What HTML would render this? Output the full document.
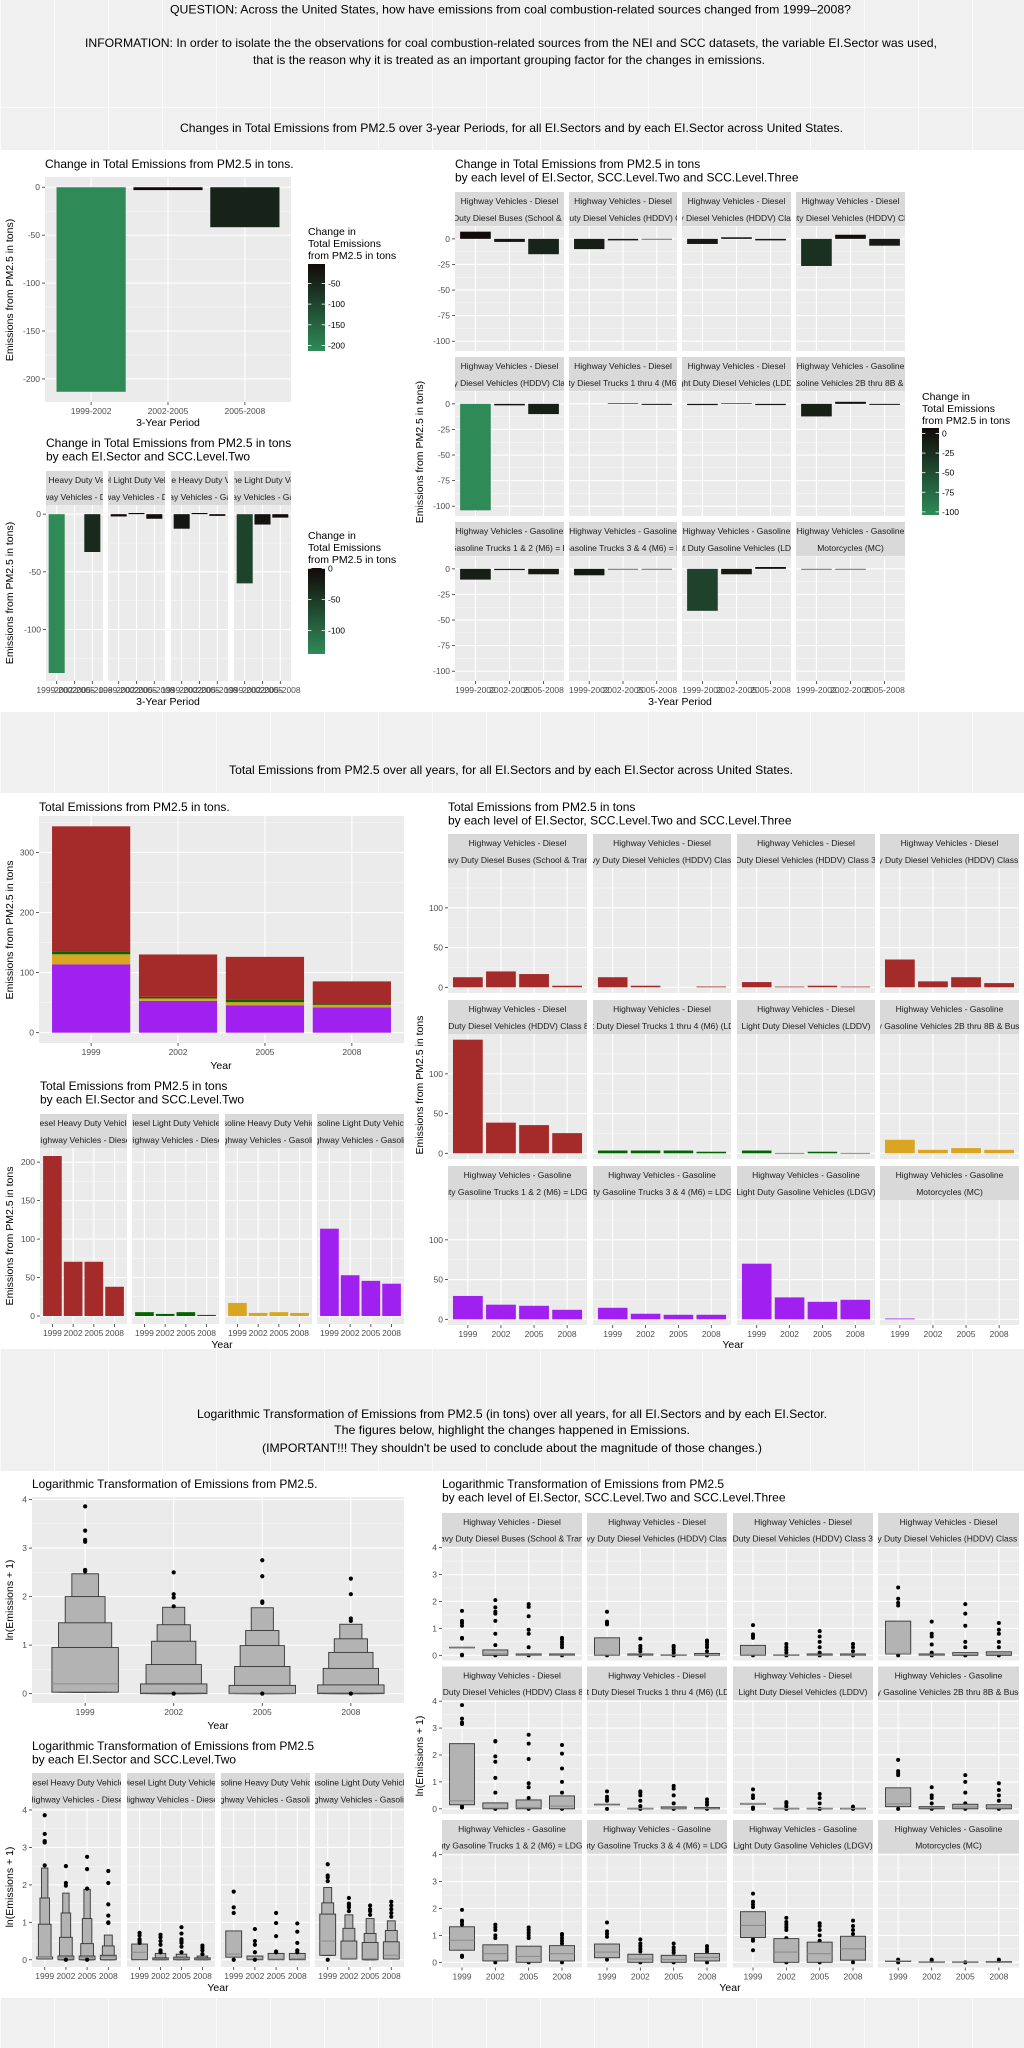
<!DOCTYPE html>
<html><head><meta charset="utf-8">
<style>
html,body{margin:0;padding:0;background:#f0f0f0;}
svg{display:block;font-family:"Liberation Sans",Arial,sans-serif;}
</style></head>
<body>
<svg id="chart-root" xmlns="http://www.w3.org/2000/svg" width="1024" height="2048" viewBox="0 0 1024 2048">
<defs>
<pattern id="bgpat" width="54" height="2048" patternUnits="userSpaceOnUse"><rect width="54" height="2048" fill="#f0f0f0"/><rect x="0" width="1" height="2048" fill="#fafafa"/></pattern>
</defs>
<rect x="0" y="0" width="1024" height="2048" fill="url(#bgpat)"/>
<rect x="0" y="107" width="1024" height="1" fill="#fafafa"/>
<rect x="0" y="150" width="1024" height="562" fill="#ffffff"/>
<rect x="0" y="793" width="1024" height="556" fill="#ffffff"/>
<rect x="0" y="1471" width="1024" height="527" fill="#ffffff"/>
<text x="170" y="13.5" font-size="12" textLength="681" lengthAdjust="spacingAndGlyphs">QUESTION:   Across the United States, how have emissions from coal combustion-related sources changed from 1999–2008?</text>
<text x="85" y="47" font-size="12" textLength="852" lengthAdjust="spacingAndGlyphs">INFORMATION:   In order to isolate the the observations for coal combustion-related sources from the NEI and SCC datasets, the variable EI.Sector was used,</text>
<text x="253" y="64" font-size="12" textLength="512" lengthAdjust="spacingAndGlyphs">that is the reason why it is treated as an important grouping factor for the changes in emissions.</text>
<text x="180" y="132" font-size="12" textLength="663" lengthAdjust="spacingAndGlyphs">Changes in Total Emissions from PM2.5 over 3-year Periods,  for all EI.Sectors and by each EI.Sector across United States.</text>
<text x="229" y="774" font-size="12" textLength="564" lengthAdjust="spacingAndGlyphs">Total Emissions from PM2.5 over all years, for all EI.Sectors and by each EI.Sector across United States.</text>
<text x="197" y="1418" font-size="12" textLength="630" lengthAdjust="spacingAndGlyphs">Logarithmic Transformation of Emissions from PM2.5 (in tons) over all years, for all EI.Sectors and by each EI.Sector.</text>
<text x="334" y="1434" font-size="12" textLength="356" lengthAdjust="spacingAndGlyphs">The figures below, highlight the changes happened in Emissions.</text>
<text x="262" y="1452" font-size="12" textLength="500" lengthAdjust="spacingAndGlyphs">(IMPORTANT!!!  They shouldn't be used to conclude about the magnitude of those changes.)</text>
</svg>
<script>
// ---------- DATA ----------
const chgPeriods = ['1999-2002','2002-2005','2005-2008'];
const chgTotal = [-213.4, -3, -41.7];
const chgLvl2 = [[-137.7, null, -32.8],[-2, 1, -4],[-12.6, 1, -1.5],[-60, -9, -3]];
const chgLvl3 = [
  [7,-3,-15],[-10,-1.5,-0.5],[-5,1.5,-1.5],[-26.5,4,-6.7],
  [-104,-1.5,-10],[null,0.5,-1],[-1.2,0.5,-1.2],[-12.3,2,-1],
  [-10.5,-1.2,-5.3],[-6.3,-0.3,-0.3],[-41,-5.3,1.8],[-0.3,-0.3,null]
];
const years = ['1999','2002','2005','2008'];
const dieselHeavy = [208, 70.5, 70.5, 38];
const dieselLight = [5, 2.7, 5, 1.4];
const gasHeavy = [17, 4, 5, 4];
const gasLight = [113.5, 53, 45.7, 42];
const totLvl3 = [
  [12.7,20,16.7,2],[12.7,2,0,1],[6.6,0.9,2,0.9],[35,7.5,12.7,5.3],
  [143,38.6,35.5,25.4],[3.5,3.5,3.5,2],[3.5,0.5,2,0.5],[17,4.4,6.6,4.4],
  [29.4,18.4,17,12],[14.5,7,5.7,5.7],[70,27.6,22,24.6],[1,0,0,0]
];
const lvl3Group = [0,0,0,0,0,1,1,2,3,3,3,3];
const lvAllUp = [[0.95,1.46,2.0,2.47],[0.2,0.6,1.08,1.42,1.78],[0.17,0.56,0.99,1.3,1.77],[0.18,0.52,0.85,1.13,1.43]];
const lvAllLo = [0.03, 0, 0, 0];
const lvAllMed = [0.2, 0.02, 0.01, 0.02];
const lvAllOut = [[2.52,2.55,3.13,3.17,3.36,3.86],[0,1.8,1.98,2.05,2.5],[0,1.87,1.9,2.42,2.75],[0,1.5,1.55,2.05,2.37]];
const lvL2Up = [
  [[0.08,0.95,1.65,2.45],[0.1,0.6,1.25,1.78],[0.1,0.43,1.1,1.88],[0.12,0.37,0.66]],
  [[0.42],[0.05,0.17],[0.07,0.15],[0.05,0.1]],
  [[0.77],[0.1],[0.17],[0.17]],
  [[1.22,1.52,1.93],[0.5,0.84,1.2],[0.46,0.7,1.1],[0.48,0.78,1.04]]
];
const lvL2Lo = [[0.02,0,0,0],[0,0,0,0],[0.07,0,0,0],[0.12,0.02,0,0.02]];
const lvL2Med = [[0.08,0.05,0.05,0.08],[0.2,0.02,0.03,0.02],[0.15,0.02,0.02,0.03],[0.5,0.04,0.03,0.12]];
const lvL2Out = [
  [[2.52,3.13,3.17,3.36,3.86],[0,1.98,2.05,2.5],[0,1.9,2.42,2.75],[0.98,1.0,1.18,1.48,2.05,2.37]],
  [[0.45,0.5,0.55,0.65,0.72],[0.2,0.25,0.4,0.5,0.6,0.67],[0.2,0.35,0.45,0.5,0.55,0.7,0.87],[0.15,0.25,0.32,0.38]],
  [[0,1.25,1.4,1.82],[0,0.2,0.4,0.5,0.82],[0.2,0.22,0.63,0.98,1.25],[0.2,0.25,0.45,0.75,0.97]],
  [[0,2.1,2.2,2.25,2.55],[1.3,1.4,1.45,1.5,1.65],[1.2,1.3,1.35,1.45],[1.15,1.25,1.35,1.45,1.55]]
];
const boxLo = [
  [0.3,0,0,0],[0,0,0,0],[0,0,0,0],[0.05,0,0,0],
  [0.15,0,0,0],[0.17,0,0,0],[0.2,0,0,0],[0.08,0,0,0],
  [0.45,0.05,0,0.05],[0.17,0,0,0.05],[0.92,0,0,0.08],[0.05,0,0,0]
];
const boxHi = [
  [0.3,0.2,0.05,0.05],[0.65,0.05,0.02,0.07],[0.37,0.02,0.05,0.05],[1.27,0.05,0.1,0.13],
  [2.42,0.22,0.33,0.48],[0.17,0.02,0.07,0.05],[0.2,0.02,0.02,0.02],[0.78,0.08,0.17,0.15],
  [1.32,0.65,0.6,0.62],[0.68,0.3,0.26,0.33],[1.88,0.88,0.75,0.97],[0.05,0.02,0.02,0.03]
];
const boxMed = [
  [0.3,0.05,0.01,0.01],[0.02,0.01,0.01,0.02],[0.02,0.01,0.01,0.01],[0.07,0.01,0.03,0.05],
  [0.3,0.03,0.05,0.1],[0.17,0.01,0.02,0.02],[0.2,0.01,0.01,0.01],[0.18,0.03,0.07,0.06],
  [0.82,0.32,0.22,0.32],[0.38,0.12,0.1,0.18],[1.37,0.38,0.32,0.5],[0.05,0.01,0.01,0.01]
];
const boxOut = [
  [[0,0.02,0.62,0.65,1.1,1.2,1.28,1.65],[0,0.38,0.8,1.28,1.55,1.62,1.78,2.05],[0,0.3,0.8,0.95,1.45,1.8,1.9],[0,0.3,0.4,0.5,0.6,0.65]],
  [[0,1.15,1.2,1.25,1.62],[0,0.15,0.25,0.35,0.62],[0,0.1,0.2,0.3,0.35],[0,0.15,0.3,0.4,0.5,0.55]],
  [[0,0.65,0.72,0.78,1.12],[0,0.1,0.2,0.3,0.42],[0,0.1,0.3,0.5,0.7,0.9],[0,0.15,0.3,0.42]],
  [[0,1.85,1.95,2.1,2.52],[0,0.1,0.4,0.7,0.8,1.25],[0,0.3,0.5,1.1,1.55,1.9],[0,0.3,0.5,0.8,0.95,1.2]],
  [[0.05,0.1,3.15,3.2,3.35,3.85],[0,0.6,1.15,1.75,1.95,2.5,2.52],[0,0.4,0.8,0.95,1.85,2.42,2.75],[0,0.6,1.0,1.5,2.05,2.37]],
  [[0,0.3,0.35,0.45,0.65],[0,0.1,0.3,0.5,0.6,0.65],[0,0.2,0.5,0.75,0.85],[0,0.15,0.25,0.35]],
  [[0,0.05,0.4,0.5,0.72],[0,0.1,0.2,0.25],[0,0.2,0.4,0.55],[0,0.05,0.08]],
  [[0,1.25,1.32,1.4,1.82],[0,0.2,0.4,0.5,0.8],[0,0.2,0.6,1.0,1.25],[0,0.3,0.5,0.7,0.95]],
  [[0.2,0.25,1.4,1.5,1.55,1.95],[0,0.9,1.0,1.2,1.3,1.4],[0,0.9,1.0,1.1,1.2,1.3],[0,0.7,0.8,0.9,1.0,1.05]],
  [[0.1,0.95,1.05,1.15,1.48],[0,0.4,0.5,0.6,0.7,0.85],[0,0.35,0.45,0.55,0.7],[0,0.4,0.5,0.6]],
  [[0.45,0.8,0.85,2.05,2.15,2.25,2.55],[0,0.9,1.2,1.3,1.4,1.5,1.65],[0,0.8,1.0,1.2,1.35,1.45],[0,1.05,1.2,1.35,1.55]],
  [[0,0.1],[0.05,0.1],[0],[0.05,0.1]]
];
const l2Line1 = ['Diesel Heavy Duty Vehicles','Diesel Light Duty Vehicles','Gasoline Heavy Duty Vehicles','Gasoline Light Duty Vehicles'];
const l2Line2 = ['Highway Vehicles - Diesel','Highway Vehicles - Diesel','Highway Vehicles - Gasoline','Highway Vehicles - Gasoline'];
const l3Line1 = ['Highway Vehicles - Diesel','Highway Vehicles - Diesel','Highway Vehicles - Diesel','Highway Vehicles - Diesel','Highway Vehicles - Diesel','Highway Vehicles - Diesel','Highway Vehicles - Diesel','Highway Vehicles - Gasoline','Highway Vehicles - Gasoline','Highway Vehicles - Gasoline','Highway Vehicles - Gasoline','Highway Vehicles - Gasoline'];
const l3Line2 = ['Heavy Duty Diesel Buses (School & Transit)','Heavy Duty Diesel Vehicles (HDDV) Class 2B','Heavy Duty Diesel Vehicles (HDDV) Class 3, 4, & 5','Heavy Duty Diesel Vehicles (HDDV) Class 6 & 7','Heavy Duty Diesel Vehicles (HDDV) Class 8a & 8b','Light Duty Diesel Trucks 1 thru 4 (M6) (LDDT)','Light Duty Diesel Vehicles (LDDV)','Heavy Duty Gasoline Vehicles 2B thru 8B & Buses (HDGV)','Light Duty Gasoline Trucks 1 & 2 (M6) = LDGT1 (M5)','Light Duty Gasoline Trucks 3 & 4 (M6) = LDGT2 (M5)','Light Duty Gasoline Vehicles (LDGV)','Motorcycles (MC)'];
const groupColors = ['#A52A2A','#006400','#DAA520','#A020F0'];

// ---------- HELPERS ----------
const NS = 'http://www.w3.org/2000/svg';
const root = document.getElementById('chart-root');
let clipId = 0;
function mk(tag, attrs, parent) {
  const e = document.createElementNS(NS, tag);
  for (const k in attrs) e.setAttribute(k, attrs[k]);
  (parent || root).appendChild(e);
  return e;
}
function nm(e, name) {
  
  
  return e;
}
function T(parent, x, y, s, size, anchor, fill, rot) {
  const a = {x: x, y: y, 'font-size': size, 'text-anchor': anchor || 'start', fill: fill || '#000', 'dominant-baseline': 'central'};
  if (rot) a.transform = 'rotate(' + rot + ' ' + x + ' ' + y + ')';
  const e = mk('text', a, parent);
  e.textContent = s;
  return e;
}
function domainOf(vals) {
  let mn = 0, mx = 0;
  vals.forEach(v => { if (v != null) { mn = Math.min(mn, v); mx = Math.max(mx, v); } });
  const p = (mx - mn) * 0.05;
  return [mn - p, mx + p];
}
function yScale(dom, y0, y1) { return v => y1 - (v - dom[0]) / (dom[1] - dom[0]) * (y1 - y0); }
function xScale(n, x0, x1) { const u = (x1 - x0) / (n + 0.2); const f = i => x0 + (i + 0.6) * u; f.u = u; return f; }
function panelBg(g, x0, y0, x1, y1, Y, dom, ticks, X, n) {
  const bg = mk('rect', {x: x0, y: y0, width: x1 - x0, height: y1 - y0, fill: '#ebebeb'}, g);
  nm(bg, 'panel-background');
  const step = ticks[1] - ticks[0];
  for (let i = -1; i < ticks.length; i++) {
    const m = ticks[0] + step * (i + 0.5);
    if (m > Math.min(dom[0], dom[1]) && m < Math.max(dom[0], dom[1])) {
      const l = mk('line', {x1: x0, x2: x1, y1: Y(m), y2: Y(m), stroke: '#fafafa', 'stroke-width': 0.5}, g);
      nm(l, 'minor-gridline');
    }
  }
  ticks.forEach(t => {
    const l = mk('line', {x1: x0, x2: x1, y1: Y(t), y2: Y(t), stroke: '#ffffff', 'stroke-width': 1.1}, g);
    nm(l, 'major-gridline');
  });
  for (let i = 0; i < n; i++) {
    const l = mk('line', {x1: X(i), x2: X(i), y1: y0, y2: y1, stroke: '#ffffff', 'stroke-width': 1.1}, g);
    nm(l, 'vertical-gridline');
  }
}
function yAxis(g, x0, Y, ticks) {
  ticks.forEach(t => {
    const l = mk('line', {x1: x0 - 3, x2: x0, y1: Y(t), y2: Y(t), stroke: '#333', 'stroke-width': 0.8}, g);
    nm(l, 'y-tick');
    const tx = T(g, x0 - 5, Y(t), String(t), 8.5, 'end', '#4d4d4d');
    nm(tx, 'y-tick-label');
  });
}
function xAxis(g, y1, X, labels) {
  labels.forEach((s, i) => {
    const l = mk('line', {x1: X(i), x2: X(i), y1: y1, y2: y1 + 3, stroke: '#333', 'stroke-width': 0.8}, g);
    nm(l, 'x-tick');
    const tx = T(g, X(i), y1 + 9, s, 8.5, 'middle', '#4d4d4d');
    nm(tx, 'x-tick-label');
  });
}
function strip(g, x0, x1, y0, h, a, b) {
  const r = mk('rect', {x: x0, y: y0, width: x1 - x0, height: h, fill: '#d9d9d9'}, g);
  nm(r, 'facet-strip');
  const id = 'clip' + (clipId++);
  const cp = mk('clipPath', {id: id}, g);
  mk('rect', {x: x0, y: y0, width: x1 - x0, height: h}, cp);
  const cg = mk('g', {'clip-path': 'url(#' + id + ')'}, g);
  const t1 = T(cg, (x0 + x1) / 2, y0 + h * 0.27, a, 8.5, 'middle', '#1a1a1a');
  nm(t1, 'facet-strip-label');
  const t2 = T(cg, (x0 + x1) / 2, y0 + h * 0.76, b, 8.5, 'middle', '#1a1a1a');
  nm(t2, 'facet-strip-label');
}
const LOW = [46, 139, 87], HIGH = [18, 10, 10];
function fillFor(v, mn, mx) {
  const t = (v - mn) / (mx - mn);
  const c = LOW.map((l, i) => Math.round(l + (HIGH[i] - l) * t));
  return 'rgb(' + c.join(',') + ')';
}
function legend(g, x, y0, y1, mn, mx, ticks, titleY) {
  ['Change in', 'Total Emissions', 'from PM2.5 in tons'].forEach((s, i) => {
    const t = T(g, x, titleY[i], s, 10.5);
    nm(t, 'legend-title');
  });
  const id = 'grad' + (clipId++);
  const lg = mk('linearGradient', {id: id, x1: 0, y1: 0, x2: 0, y2: 1}, g);
  mk('stop', {offset: 0, 'stop-color': fillFor(mx, mn, mx)}, lg);
  mk('stop', {offset: 1, 'stop-color': fillFor(mn, mn, mx)}, lg);
  const bar = mk('rect', {x: x, y: y0, width: 17, height: y1 - y0, fill: 'url(#' + id + ')'}, g);
  nm(bar, 'legend-colorbar');
  const L = v => y0 + (mx - v) / (mx - mn) * (y1 - y0);
  ticks.forEach(t => {
    const l1 = mk('line', {x1: x, x2: x + 3.4, y1: L(t), y2: L(t), stroke: '#fff', 'stroke-width': 0.8}, g);
    nm(l1, 'legend-tick');
    const l2 = mk('line', {x1: x + 13.6, x2: x + 17, y1: L(t), y2: L(t), stroke: '#fff', 'stroke-width': 0.8}, g);
    nm(l2, 'legend-tick');
    const tx = T(g, x + 20, L(t), String(t), 8.5, 'start', '#000');
    nm(tx, 'legend-label');
  });
}
function title(g, x, y, lines) {
  lines.forEach((s, i) => { const t = T(g, x, y + i * 13.5, s, 12); nm(t, 'chart-title'); });
}
function axTitle(g, x, y, s, rot) { const t = T(g, x, y, s, 10.5, 'middle', '#000', rot); nm(t, rot ? 'y-axis-title' : 'x-axis-title'); }
function changeBars(g, X, Y, vals, mn, mx) {
  vals.forEach((v, i) => {
    if (v == null) return;
    const y0 = Math.min(Y(0), Y(v)), h = Math.max(Math.abs(Y(v) - Y(0)), 0.6);
    const r = mk('rect', {x: X(i) - 0.45 * X.u, y: y0, width: 0.9 * X.u, height: h, fill: fillFor(v, mn, mx)}, g);
    nm(r, 'bar-' + chgPeriods[i]);
  });
}
function simpleBars(g, X, Y, vals, color) {
  vals.forEach((v, i) => {
    if (!v) return;
    const r = mk('rect', {x: X(i) - 0.45 * X.u, y: Y(v), width: 0.9 * X.u, height: Math.max(Y(0) - Y(v), 0.6), fill: color}, g);
    nm(r, 'bar-' + years[i]);
  });
}
function boxen(g, X, Y, i, ups, lo, med, outs) {
  const n = ups.length;
  for (let k = n - 1; k >= 0; k--) {
    const w = 0.75 * X.u * (1 - k / (n + 1));
    const r = mk('rect', {x: X(i) - w / 2, y: Y(ups[k]), width: w, height: Math.max(Y(lo) - Y(ups[k]), 0.5), fill: '#b3b3b3', stroke: '#333', 'stroke-width': 0.9}, g);
    nm(r, 'letter-value-box');
  }
  const w0 = 0.75 * X.u;
  const m = mk('line', {x1: X(i) - w0 / 2, x2: X(i) + w0 / 2, y1: Y(med), y2: Y(med), stroke: '#8c8c8c', 'stroke-width': 1}, g);
  nm(m, 'median-line');
  outs.forEach(o => { const c = mk('circle', {cx: X(i), cy: Y(o), r: 2.1, fill: '#000'}, g); nm(c, 'outlier-point'); });
}
function box(g, X, Y, i, lo, hi, med, outs) {
  const w = 0.75 * X.u;
  outs.forEach(o => { const c = mk('circle', {cx: X(i), cy: Y(o), r: 2, fill: '#000'}, g); nm(c, 'outlier-point'); });
  const r = mk('rect', {x: X(i) - w / 2, y: Y(hi), width: w, height: Math.max(Y(lo) - Y(hi), 0.6), fill: '#b3b3b3', stroke: '#333', 'stroke-width': 0.9}, g);
  nm(r, 'box');
  const m = mk('line', {x1: X(i) - w / 2, x2: X(i) + w / 2, y1: Y(med), y2: Y(med), stroke: '#8c8c8c', 'stroke-width': 1.1}, g);
  nm(m, 'median-line');
}

// ---------- CHART 1 ----------
{
  const g = nm(mk('g', {}), 'chart-total-change');
  title(g, 45, 164, ['Change in Total Emissions from PM2.5 in tons.']);
  const dom = domainOf(chgTotal), ticks = [0, -50, -100, -150, -200];
  const Y = yScale(dom, 177, 402), X = xScale(3, 45, 291);
  panelBg(g, 45, 177, 291, 402, Y, dom, ticks, X, 3);
  const mn = Math.min(...chgTotal), mx = Math.max(...chgTotal);
  changeBars(g, X, Y, chgTotal, mn, mx);
  yAxis(g, 45, Y, ticks); xAxis(g, 402, X, chgPeriods);
  axTitle(g, 168, 423, '3-Year Period');
  axTitle(g, 10, 290, 'Emissions from PM2.5 in tons)', -90);
  legend(g, 308, 264, 351, mn, mx, [-50, -100, -150, -200], [232, 244, 256]);
}
// ---------- CHART 3 ----------
{
  const g = nm(mk('g', {}), 'chart-change-level-two');
  title(g, 46, 443, ['Change in Total Emissions from PM2.5 in tons', 'by each EI.Sector and SCC.Level.Two']);
  const all = [].concat(...chgLvl2);
  const dom = domainOf(all), ticks = [0, -50, -100];
  const Y = yScale(dom, 505, 681);
  const vals = all.filter(v => v != null), mn = Math.min(...vals), mx = Math.max(...vals);
  const cols = [[46, 103], [108, 165], [171, 228], [234, 291]];
  cols.forEach((c, p) => {
    const X = xScale(3, c[0], c[1]);
    panelBg(g, c[0], 505, c[1], 681, Y, dom, ticks, X, 3);
    strip(g, c[0], c[1], 471, 34, l2Line1[p], l2Line2[p]);
    changeBars(g, X, Y, chgLvl2[p], mn, mx);
    xAxis(g, 681, X, chgPeriods);
  });
  yAxis(g, 46, Y, ticks);
  axTitle(g, 168, 702, '3-Year Period');
  axTitle(g, 10, 593, 'Emissions from PM2.5 in tons)', -90);
  legend(g, 308, 568, 654, mn, mx, [0, -50, -100], [536, 548, 560]);
}
// ---------- CHART 2 ----------
{
  const g = nm(mk('g', {}), 'chart-change-level-three');
  title(g, 455, 164, ['Change in Total Emissions from PM2.5 in tons', 'by each level of EI.Sector, SCC.Level.Two and SCC.Level.Three']);
  const all = [].concat(...chgLvl3);
  const dom = domainOf(all), ticks = [0, -25, -50, -75, -100];
  const vals = all.filter(v => v != null), mn = Math.min(...vals), mx = Math.max(...vals);
  const cols = [[455, 564], [569, 677], [682, 791], [796, 905]];
  for (let r = 0; r < 3; r++) {
    const sy = 192 + r * 165, py0 = sy + 34, py1 = py0 + 125;
    const Y = yScale(dom, py0, py1);
    cols.forEach((c, ci) => {
      const p = r * 4 + ci;
      const X = xScale(3, c[0], c[1]);
      panelBg(g, c[0], py0, c[1], py1, Y, dom, ticks, X, 3);
      strip(g, c[0], c[1], sy, 34, l3Line1[p], l3Line2[p]);
      changeBars(g, X, Y, chgLvl3[p], mn, mx);
      if (r === 2) xAxis(g, py1, X, chgPeriods);
    });
    yAxis(g, 455, Y, ticks);
  }
  axTitle(g, 680, 702, '3-Year Period');
  axTitle(g, 420, 452, 'Emissions from PM2.5 in tons)', -90);
  legend(g, 922, 428, 515, mn, mx, [0, -25, -50, -75, -100], [397, 409, 421]);
}
// ---------- CHART A ----------
{
  const g = nm(mk('g', {}), 'chart-total-stacked');
  title(g, 39, 807, ['Total Emissions from PM2.5 in tons.']);
  const totals = years.map((y, i) => gasLight[i] + gasHeavy[i] + dieselLight[i] + dieselHeavy[i]);
  const dom = domainOf(totals), ticks = [0, 100, 200, 300];
  const Y = yScale(dom, 816, 1043), X = xScale(4, 39, 404);
  panelBg(g, 39, 816, 404, 1043, Y, dom, ticks, X, 4);
  const stack = [gasLight, gasHeavy, dieselLight, dieselHeavy];
  const cols = ['#A020F0', '#DAA520', '#006400', '#A52A2A'];
  const names = ['gas-light', 'gas-heavy', 'diesel-light', 'diesel-heavy'];
  years.forEach((yr, i) => {
    let base = 0;
    stack.forEach((s, k) => {
      const r = mk('rect', {x: X(i) - 0.45 * X.u, y: Y(base + s[i]), width: 0.9 * X.u, height: Y(base) - Y(base + s[i]), fill: cols[k]}, g);
      nm(r, 'bar-' + names[k] + '-' + yr);
      base += s[i];
    });
  });
  yAxis(g, 39, Y, ticks); xAxis(g, 1043, X, years);
  axTitle(g, 221, 1066, 'Year');
  axTitle(g, 10, 930, 'Emissions from PM2.5 in tons', -90);
}
// ---------- CHART B ----------
{
  const g = nm(mk('g', {}), 'chart-total-level-two');
  title(g, 40, 1086, ['Total Emissions from PM2.5 in tons', 'by each EI.Sector and SCC.Level.Two']);
  const series = [dieselHeavy, dieselLight, gasHeavy, gasLight];
  const dom = domainOf([].concat(...series)), ticks = [0, 50, 100, 150, 200];
  const Y = yScale(dom, 1148, 1324);
  const cols = [[40, 127], [132, 219], [225, 312], [317, 404]];
  cols.forEach((c, p) => {
    const X = xScale(4, c[0], c[1]);
    panelBg(g, c[0], 1148, c[1], 1324, Y, dom, ticks, X, 4);
    strip(g, c[0], c[1], 1114, 34, l2Line1[p], l2Line2[p]);
    simpleBars(g, X, Y, series[p], groupColors[p]);
    xAxis(g, 1324, X, years);
  });
  yAxis(g, 40, Y, ticks);
  axTitle(g, 222, 1345, 'Year');
  axTitle(g, 10, 1236, 'Emissions from PM2.5 in tons', -90);
}
// ---------- CHART C ----------
{
  const g = nm(mk('g', {}), 'chart-total-level-three');
  title(g, 448, 807, ['Total Emissions from PM2.5 in tons', 'by each level of EI.Sector, SCC.Level.Two and SCC.Level.Three']);
  const dom = domainOf([].concat(...totLvl3)), ticks = [0, 50, 100];
  const cols = [[448, 587], [593, 731], [737, 875], [880, 1019]];
  for (let r = 0; r < 3; r++) {
    const sy = 834 + r * 166, py0 = sy + 34, py1 = py0 + 125;
    const Y = yScale(dom, py0, py1);
    cols.forEach((c, ci) => {
      const p = r * 4 + ci;
      const X = xScale(4, c[0], c[1]);
      panelBg(g, c[0], py0, c[1], py1, Y, dom, ticks, X, 4);
      strip(g, c[0], c[1], sy, 34, l3Line1[p], l3Line2[p]);
      simpleBars(g, X, Y, totLvl3[p], groupColors[lvl3Group[p]]);
      if (r === 2) xAxis(g, py1, X, years);
    });
    yAxis(g, 448, Y, ticks);
  }
  axTitle(g, 733, 1345, 'Year');
  axTitle(g, 420, 1085, 'Emissions from PM2.5 in tons', -90);
}
// ---------- CHART E ----------
{
  const g = nm(mk('g', {}), 'chart-log-all');
  title(g, 32, 1484, ['Logarithmic Transformation of Emissions from PM2.5.']);
  const dom = domainOf([].concat(...lvAllOut, ...lvAllUp)), ticks = [0, 1, 2, 3, 4];
  const Y = yScale(dom, 1497, 1703), X = xScale(4, 32, 404);
  panelBg(g, 32, 1497, 404, 1703, Y, dom, ticks, X, 4);
  years.forEach((y, i) => boxen(g, X, Y, i, lvAllUp[i], lvAllLo[i], lvAllMed[i], lvAllOut[i]));
  yAxis(g, 32, Y, ticks); xAxis(g, 1703, X, years);
  axTitle(g, 218, 1726, 'Year');
  axTitle(g, 10, 1600, 'ln(Emissions + 1)', -90);
}
// ---------- CHART F ----------
{
  const g = nm(mk('g', {}), 'chart-log-level-two');
  title(g, 32, 1746, ['Logarithmic Transformation of Emissions from PM2.5', 'by each EI.Sector and SCC.Level.Two']);
  const dom = domainOf([].concat(...lvAllOut, ...lvAllUp)), ticks = [0, 1, 2, 3, 4];
  const Y = yScale(dom, 1808, 1967);
  const cols = [[32, 121], [127, 215], [221, 310], [315, 404]];
  cols.forEach((c, p) => {
    const X = xScale(4, c[0], c[1]);
    panelBg(g, c[0], 1808, c[1], 1967, Y, dom, ticks, X, 4);
    strip(g, c[0], c[1], 1773, 35, l2Line1[p], l2Line2[p]);
    years.forEach((y, i) => boxen(g, X, Y, i, lvL2Up[p][i], lvL2Lo[p][i], lvL2Med[p][i], lvL2Out[p][i]));
    xAxis(g, 1967, X, years);
  });
  yAxis(g, 32, Y, ticks);
  axTitle(g, 218, 1988, 'Year');
  axTitle(g, 10, 1887, 'ln(Emissions + 1)', -90);
}
// ---------- CHART G ----------
{
  const g = nm(mk('g', {}), 'chart-log-level-three');
  title(g, 442, 1484, ['Logarithmic Transformation of Emissions from PM2.5', 'by each level of EI.Sector, SCC.Level.Two and SCC.Level.Three']);
  const dom = domainOf([].concat(...boxOut.map(a => [].concat(...a)), ...boxHi)), ticks = [0, 1, 2, 3, 4];
  const cols = [[442, 582], [587, 727], [733, 873], [878, 1019]];
  for (let r = 0; r < 3; r++) {
    const sy = 1513 + r * 153.5, py0 = sy + 33.5, py1 = py0 + 114;
    const Y = yScale(dom, py0, py1);
    cols.forEach((c, ci) => {
      const p = r * 4 + ci;
      const X = xScale(4, c[0], c[1]);
      panelBg(g, c[0], py0, c[1], py1, Y, dom, ticks, X, 4);
      strip(g, c[0], c[1], sy, 33.5, l3Line1[p], l3Line2[p]);
      years.forEach((y, i) => box(g, X, Y, i, boxLo[p][i], boxHi[p][i], boxMed[p][i], boxOut[p][i]));
      if (r === 2) xAxis(g, py1, X, years);
    });
    yAxis(g, 442, Y, ticks);
  }
  axTitle(g, 730, 1988, 'Year');
  axTitle(g, 420, 1756, 'ln(Emissions + 1)', -90);
}
</script>
</body></html>
